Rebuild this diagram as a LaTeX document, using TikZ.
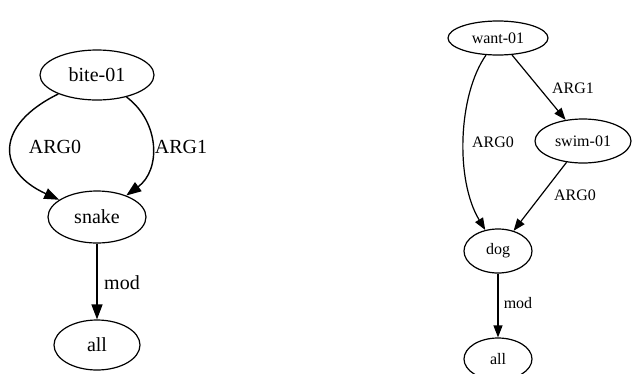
\documentclass[tikz,border=0pt]{standalone}
\usepackage{fontspec}
\setmainfont{Liberation Serif}
\usetikzlibrary{shapes.geometric,arrows.meta}
\tikzset{
  amrnode/.style={ellipse, draw, inner sep=0pt, line width=1.2pt},
  bigedge/.style={-{Triangle[length=15pt,width=11pt]}, line width=1.4pt},
  smalledge/.style={-{Triangle[length=12pt,width=9pt]}, line width=1.2pt},
}
\begin{document}
\begin{tikzpicture}[x=1pt,y=-1pt]
      \useasboundingbox (0,0) rectangle (632,373);
      % first graph
      \begin{scope}[font=\rmfamily\fontsize{20}{24}\selectfont]
        \node[amrnode, minimum width=114pt, minimum height=50pt] (bite) at (97,75) {bite-01};
        \node[amrnode, minimum width=98pt, minimum height=52pt] (snake) at (97,217) {snake};
        \node[amrnode, minimum width=86pt, minimum height=50pt] (all1) at (97,345) {all};
        \node (arg0a) at (55,147) {ARG0};
        \node (arg1a) at (181,147) {ARG1};
        \node (moda) at (122,283) {mod};
        \draw[bigedge] (bite) .. controls (-5,125) and (-4,171) .. (snake);
        \draw[bigedge] (bite) .. controls (160,122) and (161,170) .. (snake);
        \draw[bigedge] (snake) to (all1);
      \end{scope}
      % second graph
      \begin{scope}[font=\rmfamily\fontsize{16}{19}\selectfont]
        \node[amrnode, minimum width=100pt, minimum height=34pt] (want) at (498,38) {want-01};
        \node[amrnode, minimum width=96pt, minimum height=44pt] (swim) at (583,141) {swim-01};
        \node[amrnode, minimum width=68pt, minimum height=44pt] (dog) at (498,251) {dog};
        \node[amrnode, minimum width=68pt, minimum height=42pt] (all2) at (498,359) {all};
        \node (arg1b) at (573,88) {ARG1};
        \node (arg0b) at (493,142) {ARG0};
        \node (arg0c) at (575,195) {ARG0};
        \node (modb) at (518,303) {mod};
        \draw[smalledge] (want) .. controls (458,95) and (455,180) .. (dog);
        \draw[smalledge] (want) to (swim);
        \draw[smalledge] (swim) to (dog);
        \draw[smalledge] (dog) to (all2);
      \end{scope}
    \end{tikzpicture}
\end{document}
